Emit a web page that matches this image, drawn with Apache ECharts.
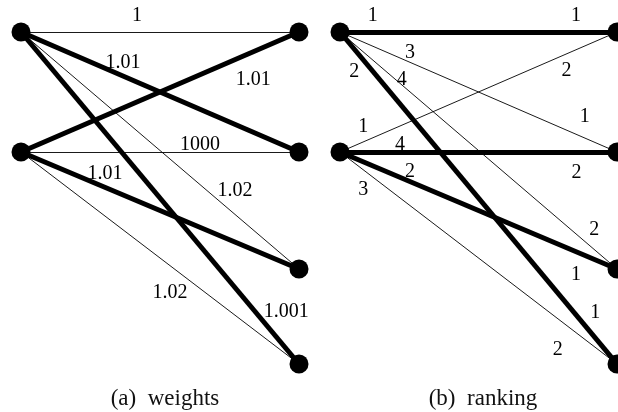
<!DOCTYPE html>
<html>
<head>
<meta charset="utf-8">
<script src="https://cdn.jsdelivr.net/npm/echarts@6/dist/echarts.min.js"></script>
<style>
html,body{margin:0;padding:0;background:#fff;}
#chart{width:618px;height:412px;}
</style>
</head>
<body>
<div id="chart"></div>
<script>
// ---- data ----
const leftNodes = ['u1', 'u2'];
const rightNodes = ['v1', 'v2', 'v3', 'v4'];
const leftY = [0, 1];
const rightY = [0, 1, 1.975, 2.767];
// edges: [left index, right index]
const edges = [[0,0],[0,1],[0,2],[0,3],[1,0],[1,1],[1,2],[1,3]];
const weights = ['1', '1.01', '1.02', '1.001', '1.01', '1000', '1.01', '1.02'];
const matchingA = [0, 1, 0, 1, 1, 0, 1, 0];
const rankLeft = ['1', '3', '4', '2', '1', '4', '2', '3'];
const rankRight = ['1', '1', '2', '1', '2', '2', '1', '2'];
const matchingB = [1, 0, 0, 1, 0, 1, 1, 0];
const captions = ['(a)  weights', '(b)  ranking'];

// ---- label placement (style): [fraction along edge, dx px, dy px] ----
const placeA = [[0.417,0,-16],[0.367,0,-13],[0.77,0,-24],[0.843,31,0],
                [0.835,0,28],[0.644,0,-7],[0.302,0,-14],[0.536,0,27]];
const placeBStart = [[0.118,0,-16],[0.253,0,-10],[0.223,0,-5],[0.12,-19,0],
                     [0.084,0,-15],[0.217,0,-7],[0.253,0,-10],[0.084,0,20]];
const placeBEnd = [[0.852,0,-16],[0.884,0,-21],[0.918,0,-20],[0.8455,21,0],
                   [0.818,0,17],[0.854,0,21],[0.852,0,23],[0.786,0,31]];

const FONT = 'Liberation Serif';
const yMax = rightY[rightY.length - 1];

function edgeCoords(e) {
  return [[0, leftY[e[0]]], [1, rightY[e[1]]]];
}
function along(e, t) {
  const c = edgeCoords(e);
  return [c[0][0] + (c[1][0] - c[0][0]) * t, c[0][1] + (c[1][1] - c[0][1]) * t];
}

function panelSeries(idx, matching, labelSets) {
  const series = [];
  series.push({
    type: 'lines', coordinateSystem: 'cartesian2d', xAxisIndex: idx, yAxisIndex: idx,
    polyline: false, silent: true, z: 1, clip: false,
    data: edges.map((e, i) => ({
      coords: edgeCoords(e),
      lineStyle: { color: '#000', width: matching[i] ? 5 : 0.9, opacity: 1 }
    }))
  });
  const nodes = leftNodes.map((n, i) => [0, leftY[i]]).concat(rightNodes.map((n, i) => [1, rightY[i]]));
  series.push({
    type: 'scatter', xAxisIndex: idx, yAxisIndex: idx, symbol: 'circle', symbolSize: 19,
    itemStyle: { color: '#000', opacity: 1 }, z: 3, clip: false, silent: true, data: nodes
  });
  labelSets.forEach(ls => {
    series.push({
      type: 'scatter', xAxisIndex: idx, yAxisIndex: idx, symbolSize: 1, z: 5, clip: false, silent: true,
      itemStyle: { color: 'rgba(0,0,0,0)', opacity: 1 },
      data: edges.map((e, i) => {
        const p = ls.place[i];
        return {
          value: along(e, p[0]),
          label: { show: true, position: 'inside', formatter: ls.texts[i], offset: [p[1], p[2]],
                   color: '#000', fontFamily: FONT, fontSize: 20 }
        };
      })
    });
  });
  return series;
}

const chart = echarts.init(document.getElementById('chart'), null, { renderer: 'canvas' });
const axisHidden = { show: false };
chart.setOption({
  animation: false,
  backgroundColor: '#fff',
  title: [
    { text: captions[0], left: 160, top: 382, textAlign: 'center',
      textStyle: { fontFamily: FONT, fontSize: 23, fontWeight: 'normal', color: '#111' } },
    { text: captions[1], left: 478, top: 382, textAlign: 'center',
      textStyle: { fontFamily: FONT, fontSize: 23, fontWeight: 'normal', color: '#111' } }
  ],
  grid: [
    { left: 21, width: 278, top: 32, height: 332 },
    { left: 340, width: 277, top: 32, height: 332 }
  ],
  xAxis: [
    Object.assign({ type: 'value', min: 0, max: 1, gridIndex: 0 }, axisHidden),
    Object.assign({ type: 'value', min: 0, max: 1, gridIndex: 1 }, axisHidden)
  ],
  yAxis: [
    Object.assign({ type: 'value', min: 0, max: yMax, inverse: true, gridIndex: 0 }, axisHidden),
    Object.assign({ type: 'value', min: 0, max: yMax, inverse: true, gridIndex: 1 }, axisHidden)
  ],
  series: panelSeries(0, matchingA, [{ texts: weights, place: placeA }])
    .concat(panelSeries(1, matchingB, [{ texts: rankLeft, place: placeBStart }, { texts: rankRight, place: placeBEnd }]))
});
</script>
</body>
</html>
